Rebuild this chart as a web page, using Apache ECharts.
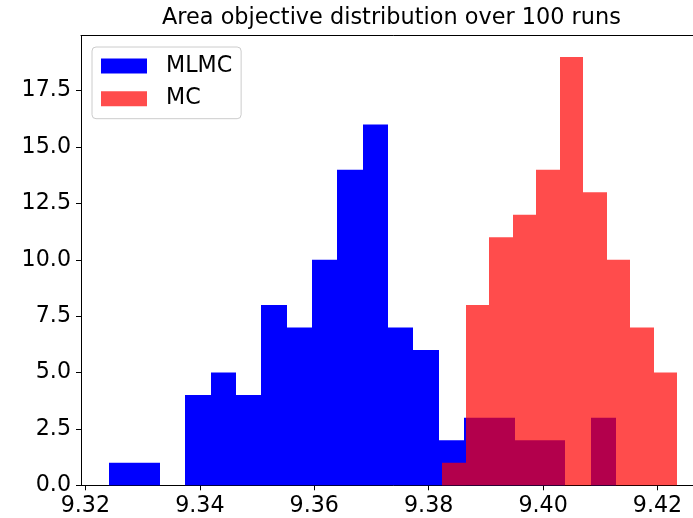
<!DOCTYPE html>
<html>
<head>
<meta charset="utf-8">
<script src="https://cdn.jsdelivr.net/npm/echarts@6/dist/echarts.min.js"></script>
<style>
html,body{margin:0;padding:0;background:#fff;overflow:hidden;width:693px;height:518px;}
#chart{width:720px;height:518px;}
</style>
</head>
<body>
<div id="chart"></div>
<script>
// ---- data ----
const titleText = 'Area objective distribution over 100 runs';
const seriesNames = ['MLMC', 'MC'];

// MLMC histogram: bin edges and counts
const mlmcEdges = [9.32419, 9.32862, 9.33305, 9.33747, 9.34190, 9.34633, 9.35076, 9.35519,
  9.35961, 9.36404, 9.36847, 9.37290, 9.37733, 9.38175, 9.38618, 9.39061, 9.39504,
  9.39947, 9.40389, 9.40832, 9.41275];
const mlmcCounts = [1, 1, 0, 4, 5, 4, 8, 7, 10, 14, 16, 7, 6, 2, 3, 3, 2, 2, 0, 3];

// MC histogram: bin edges and counts
const mcEdges = [9.38236, 9.38647, 9.39057, 9.39468, 9.39878, 9.40289, 9.40699,
  9.41110, 9.41520, 9.41931, 9.42341];
const mcCounts = [1, 8, 11, 12, 14, 19, 13, 10, 7, 5];

const xTicks = [9.32, 9.34, 9.36, 9.38, 9.40, 9.42];
const yTicks = [0, 2.5, 5, 7.5, 10, 12.5, 15, 17.5];
const xRange = [9.31923, 9.42837];
const yRange = [0, 19.95];

// ---- build ----
function toBins(edges, counts) {
  return counts.map((c, i) => [edges[i], edges[i + 1], c]);
}
function renderBar(params, api) {
  const p0 = api.coord([api.value(0), 0]);
  const p1 = api.coord([api.value(1), api.value(2)]);
  const x0 = Math.round(p0[0]), x1 = Math.round(p1[0]);
  return {
    type: 'rect',
    shape: { x: x0, y: p1[1], width: x1 - x0, height: p0[1] - p1[1] },
    style: api.style()
  };
}

const FONT = 'DejaVu Sans';
const chart = echarts.init(document.getElementById('chart'), null, { renderer: 'canvas' });
chart.setOption({
  backgroundColor: '#ffffff',
  animation: false,
  title: {
    text: titleText,
    left: 162,
    top: 7,
    padding: 0,
    textStyle: { fontFamily: FONT, fontSize: 22.4, fontWeight: 'normal', color: '#000' }
  },
  legend: {
    data: seriesNames,
    orient: 'vertical',
    left: 92,
    top: 47,
    padding: [8, 9, 9, 9],
    itemWidth: 46,
    itemHeight: 15,
    itemGap: 10.7,
    icon: 'rect',
    backgroundColor: 'rgba(255,255,255,0.8)',
    borderColor: '#cccccc',
    borderWidth: 1,
    borderRadius: 4,
    textStyle: { fontFamily: FONT, fontSize: 22.2, color: '#000', padding: [0, 0, 0, 14] }
  },
  graphic: [{
    type: 'rect', left: 689, top: 37, z: 100, silent: true,
    shape: { width: 6, height: 447 },
    style: { fill: '#ffffff' }
  }],
  grid: {
    left: 81, top: 35.5, bottom: 32.7, right: 14.6,
    outerBoundsMode: 'none',
    show: false,
    containLabel: false
  },
  xAxis: [{
    type: 'value',
    min: xRange[0], max: xRange[1],
    splitLine: { show: false },
    axisLine: { show: true, onZero: false, lineStyle: { color: '#000', width: 1 } },
    axisTick: { show: true, length: 5, lineStyle: { color: '#000', width: 1 }, customValues: xTicks },
    axisLabel: {
      customValues: xTicks, margin: 10,
      fontFamily: FONT, fontSize: 22.2, color: '#000',
      formatter: v => v.toFixed(2)
    }
  }, {
    type: 'value',
    position: 'top',
    min: xRange[0], max: xRange[1],
    splitLine: { show: false },
    axisLine: { show: true, onZero: false, lineStyle: { color: '#000', width: 1 } },
    axisTick: { show: false },
    axisLabel: { show: false }
  }],
  yAxis: {
    type: 'value',
    min: yRange[0], max: yRange[1],
    splitLine: { show: false },
    axisLine: { show: true, lineStyle: { color: '#000', width: 1 } },
    axisTick: { show: true, length: 5, lineStyle: { color: '#000', width: 1 }, customValues: yTicks },
    axisLabel: {
      customValues: yTicks, margin: 10,
      fontFamily: FONT, fontSize: 22.2, color: '#000',
      formatter: v => v.toFixed(1)
    }
  },
  series: [
    {
      name: seriesNames[0],
      type: 'custom',
      renderItem: renderBar,
      itemStyle: { color: '#0000ff' },
      encode: { x: [0, 1], y: 2 },
      data: toBins(mlmcEdges, mlmcCounts)
    },
    {
      name: seriesNames[1],
      type: 'custom',
      renderItem: renderBar,
      itemStyle: { color: 'rgba(255,0,0,0.7)' },
      encode: { x: [0, 1], y: 2 },
      data: toBins(mcEdges, mcCounts)
    }
  ]
});
</script>
</body>
</html>
